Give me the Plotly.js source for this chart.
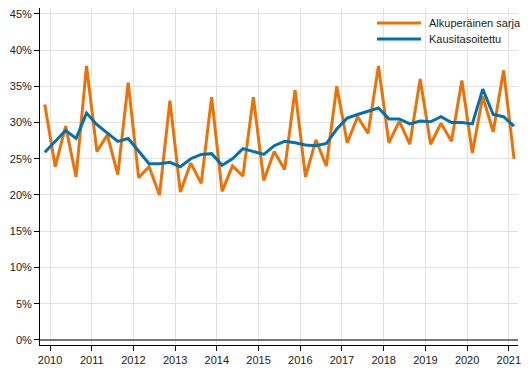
<!DOCTYPE html>
<html>
<head>
<meta charset="utf-8">
<script src="https://cdn.plot.ly/plotly-3.0.1.min.js"></script>
<style>html,body{margin:0;padding:0;background:#fff}#chart{width:529px;height:378px}</style>
</head>
<body>
<div id="chart"></div>
<script>
// Quarters 2009Q4 .. 2021Q1
const startYear = 2009, startQuarter = 4, nPoints = 46;
const original = [32.5, 23.9, 29.5, 22.5, 37.8, 26.0, 28.3, 22.8, 35.5,
  22.4, 23.9, 20.0, 33.0, 20.4, 24.4, 21.6, 33.5,
  20.5, 24.0, 22.6, 33.5, 22.0, 26.0, 23.5,
  34.5, 22.5, 27.6, 24.0, 35.0, 27.2, 30.8, 28.5,
  37.8, 27.2, 30.2, 27.0, 36.0, 27.0, 29.9, 27.4,
  35.8, 25.8, 33.6, 28.7, 37.2, 25.0];
const seasonal = [25.9, 27.4, 28.9, 27.8, 31.3, 29.7, 28.5, 27.4, 27.8,
  26.0, 24.3, 24.3, 24.5, 23.9, 25.0, 25.6, 25.7,
  24.1, 25.0, 26.4, 26.0, 25.6, 26.8, 27.4,
  27.2, 26.9, 26.8, 27.1, 29.1, 30.6, 31.1, 31.5,
  32.0, 30.5, 30.5, 29.8, 30.2, 30.1, 30.8, 30.0,
  30.0, 29.8, 34.6, 31.1, 30.8, 29.5];
const yearTicks = [2010, 2011, 2012, 2013, 2014, 2015, 2016, 2017, 2018, 2019, 2020, 2021];
const seriesNames = ["Alkuperäinen sarja", "Kausitasoitettu"];
const seriesColors = ["#EE7203", "#0072B0"];

const x = [];
for (let i = 0; i < nPoints; i++) {
  const q0 = (startQuarter - 1) + i;
  x.push(startYear + (q0 + 0.5) / 4);
}

const traces = [
  {x: x, y: original, name: seriesNames[0], type: "scatter", mode: "lines",
   line: {color: seriesColors[0], width: 3}, showlegend: false},
  {x: x, y: seasonal, name: seriesNames[1], type: "scatter", mode: "lines",
   line: {color: seriesColors[1], width: 3}, showlegend: false}
];

// custom legend (paper coordinates)
const legY = [0.9555, 0.908];
const shapes = [], annotations = [];
seriesNames.forEach((nm, i) => {
  shapes.push({type: "line", xref: "paper", yref: "paper",
    x0: 0.705, x1: 0.797, y0: legY[i], y1: legY[i],
    line: {color: seriesColors[i], width: 3}});
  annotations.push({xref: "paper", yref: "paper", x: 0.8096, y: legY[i],
    xanchor: "left", yanchor: "middle", text: nm, showarrow: false,
    font: {size: 11, color: "#222"}});
});

const layout = {
  width: 529, height: 378,
  margin: {l: 40, r: 11, t: 8, b: 33},
  paper_bgcolor: "#fff", plot_bgcolor: "#fff",
  font: {family: "Liberation Sans, Arial, sans-serif", size: 11, color: "#222"},
  showlegend: false,
  shapes: shapes,
  annotations: annotations,
  xaxis: {
    range: [2009.76, 2021.22],
    tickmode: "array", tickvals: yearTicks, ticktext: yearTicks.map(String),
    showgrid: true, gridcolor: "#e2e2e2", gridwidth: 1,
    showline: true, linecolor: "#000", linewidth: 1,
    ticks: "outside", ticklen: 5, tickcolor: "#000",
    zeroline: false, fixedrange: true
  },
  yaxis: {
    range: [-0.7, 45.8],
    tickmode: "linear", tick0: 0, dtick: 5, ticksuffix: "%",
    showgrid: true, gridcolor: "#e2e2e2", gridwidth: 1,
    showline: true, linecolor: "#000", linewidth: 1,
    ticks: "outside", ticklen: 5, tickcolor: "#000",
    zeroline: true, zerolinecolor: "#777", zerolinewidth: 2,
    fixedrange: true
  }
};

Plotly.newPlot("chart", traces, layout, {displayModeBar: false, staticPlot: true});
</script>
</body>
</html>
